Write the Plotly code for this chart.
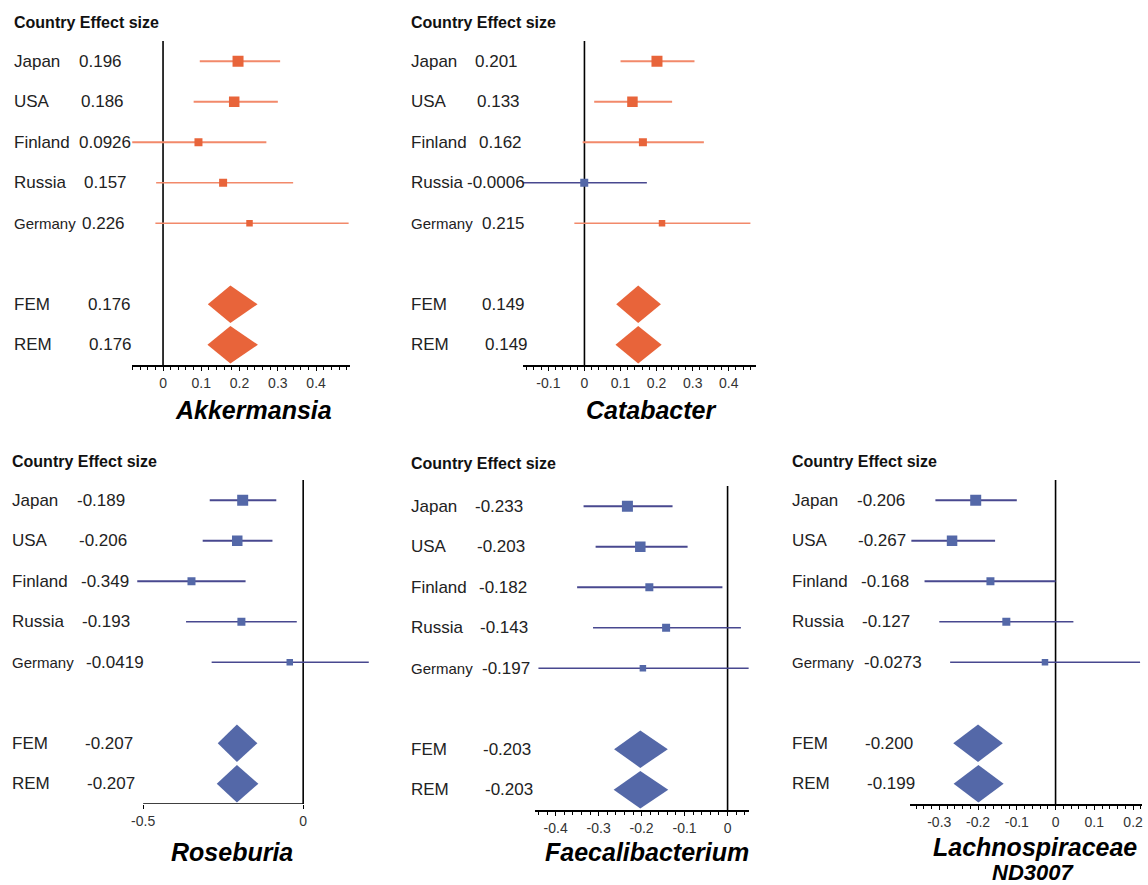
import plotly.graph_objects as go

W, H = 1148, 885

countries = ["Japan", "USA", "Finland", "Russia", "Germany"]
summary_labels = ["FEM", "REM"]
row_pos = [0, 1, 2, 3, 4]
summary_pos = [6, 7]

# ---- data per panel ----
akk_effect = [0.196, 0.186, 0.0926, 0.157, 0.226]
akk_low = [0.096, 0.080, -0.085, -0.018, -0.020]
akk_high = [0.306, 0.300, 0.270, 0.340, 0.485]
akk_sum = [0.176, 0.176]
akk_sum_low = [0.117, 0.116]
akk_sum_high = [0.247, 0.248]

cat_effect = [0.201, 0.133, 0.162, -0.0006, 0.215]
cat_low = [0.100, 0.027, -0.005, -0.175, -0.028]
cat_high = [0.305, 0.243, 0.331, 0.173, 0.460]
cat_sum = [0.149, 0.149]
cat_sum_low = [0.088, 0.086]
cat_sum_high = [0.212, 0.214]

ros_effect = [-0.189, -0.206, -0.349, -0.193, -0.0419]
ros_low = [-0.292, -0.314, -0.519, -0.366, -0.286]
ros_high = [-0.084, -0.096, -0.180, -0.020, 0.205]
ros_sum = [-0.207, -0.207]
ros_sum_low = [-0.267, -0.270]
ros_sum_high = [-0.143, -0.140]

fae_effect = [-0.233, -0.203, -0.182, -0.143, -0.197]
fae_low = [-0.335, -0.307, -0.350, -0.313, -0.440]
fae_high = [-0.128, -0.093, -0.012, 0.031, 0.049]
fae_sum = [-0.203, -0.203]
fae_sum_low = [-0.264, -0.265]
fae_sum_high = [-0.139, -0.138]

lac_effect = [-0.206, -0.267, -0.168, -0.127, -0.0273]
lac_low = [-0.310, -0.372, -0.338, -0.300, -0.272]
lac_high = [-0.100, -0.156, 0.000, 0.046, 0.218]
lac_sum = [-0.200, -0.199]
lac_sum_low = [-0.264, -0.263]
lac_sum_high = [-0.136, -0.134]

akk_ticks = [0, 0.1, 0.2, 0.3, 0.4]
akk_ticktext = ["0", "0.1", "0.2", "0.3", "0.4"]
cat_ticks = [-0.1, 0, 0.1, 0.2, 0.3, 0.4]
cat_ticktext = ["-0.1", "0", "0.1", "0.2", "0.3", "0.4"]
ros_ticks = [-0.5, 0]
ros_ticktext = ["-0.5", "0"]
fae_ticks = [-0.4, -0.3, -0.2, -0.1, 0]
fae_ticktext = ["-0.4", "-0.3", "-0.2", "-0.1", "0"]
lac_ticks = [-0.3, -0.2, -0.1, 0, 0.1, 0.2]
lac_ticktext = ["-0.3", "-0.2", "-0.1", "0", "0.1", "0.2"]

titles = ["Akkermansia", "Catabacter", "Roseburia", "Faecalibacterium", "Lachnospiraceae"]
title2 = "ND3007"

# ---- style ----
ORANGE_MARK = "#E8643A"
ORANGE_LINE = "#F2896A"
BLUE_MARK = "#5468A8"
BLUE_LINE = "#48488F"
marker_sizes = [11, 10.5, 8, 8, 6.5]
line_widths = [2, 2, 1.8, 1.6, 1.4]

panels = [
    dict(eff=akk_effect, lo=akk_low, hi=akk_high, s=akk_sum, slo=akk_sum_low, shi=akk_sum_high,
         ticks=akk_ticks, ticktext=akk_ticktext, minor=True, px=(127, 346), zero=158, scale=385,
         py=(41, 365), left=6, head_y=23, voff=[65, 67, 65, 70, 68, 74, 75],
         title_xy=(249, 410)),
    dict(eff=cat_effect, lo=cat_low, hi=cat_high, s=cat_sum, slo=cat_sum_low, shi=cat_sum_high,
         ticks=cat_ticks, ticktext=cat_ticktext, minor=True, px=(520, 755), zero=582, scale=363,
         py=(41, 365), left=405, head_y=23, voff=[65, 67, 69, 57, 72, 72, 75],
         title_xy=(649, 410)),
    dict(eff=ros_effect, lo=ros_low, hi=ros_high, s=ros_sum, slo=ros_sum_low, shi=ros_sum_high,
         ticks=ros_ticks, ticktext=ros_ticktext, minor=False, px=(132, 368), zero=299, scale=322,
         py=(480, 804), left=4, head_y=461, voff=[65, 67, 69, 70, 74, 73, 75],
         title_xy=(227, 852)),
    dict(eff=fae_effect, lo=fae_low, hi=fae_high, s=fae_sum, slo=fae_sum_low, shi=fae_sum_high,
         ticks=fae_ticks, ticktext=fae_ticktext, minor=True, px=(532, 748), zero=726, scale=432.5,
         py=(486, 810), left=405, head_y=463, voff=[65, 67, 69, 70, 72, 73, 75],
         title_xy=(645, 852)),
    dict(eff=lac_effect, lo=lac_low, hi=lac_high, s=lac_sum, slo=lac_sum_low, shi=lac_sum_high,
         ticks=lac_ticks, ticktext=lac_ticktext, minor=True, px=(910, 1143), zero=1056, scale=390,
         py=(480, 804), left=789, head_y=461, voff=[65, 66, 69, 70, 72, 73, 75],
         title_xy=(1035, 847)),
]


def fmt(v):
    return f"{v:.4f}" if abs(v) < 0.1 else f"{v:.3f}"


def px2x(p):
    return p / W


def py2y(p):
    return 1 - p / H


fig = go.Figure()
annotations = []
shapes = []
FONT = "Liberation Sans, Arial, sans-serif"

for i, p in enumerate(panels, start=1):
    xa = "x" if i == 1 else f"x{i}"
    ya = "y" if i == 1 else f"y{i}"
    xr = [(p["px"][0] - p["zero"]) / p["scale"], (p["px"][1] - p["zero"]) / p["scale"]]

    # study rows
    for k, (e, lo, hi) in enumerate(zip(p["eff"], p["lo"], p["hi"])):
        pos = e >= 0
        mc = ORANGE_MARK if pos else BLUE_MARK
        lc = ORANGE_LINE if pos else BLUE_LINE
        fig.add_trace(go.Scatter(
            x=[lo, hi], y=[row_pos[k], row_pos[k]], mode="lines",
            line=dict(color=lc, width=line_widths[k]), xaxis=xa, yaxis=ya,
            hoverinfo="skip"))
        fig.add_trace(go.Scatter(
            x=[e], y=[row_pos[k]], mode="markers",
            marker=dict(symbol="square", size=marker_sizes[k], color=mc, line=dict(width=0)),
            xaxis=xa, yaxis=ya))

    # summary diamonds
    for k, (c, lo, hi) in enumerate(zip(p["s"], p["slo"], p["shi"])):
        col = ORANGE_MARK if c >= 0 else BLUE_MARK
        r = summary_pos[k]
        fig.add_trace(go.Scatter(
            x=[lo, c, hi, c, lo], y=[r, r - 0.46, r, r + 0.46, r],
            mode="lines", fill="toself", fillcolor=col, line=dict(width=0, color=col),
            xaxis=xa, yaxis=ya, hoverinfo="skip"))

    axis_common = dict(
        domain=[px2x(p["px"][0]), px2x(p["px"][1])], range=xr, anchor=ya,
        showgrid=False, zeroline=False, showline=(i != 3), linecolor="black", linewidth=1.6,
        ticks="outside", ticklen=4, tickwidth=1, tickcolor="black",
        tickmode="array", tickvals=p["ticks"], ticktext=p["ticktext"],
        tickfont=dict(family=FONT, size=14, color="#333333"), fixedrange=True,
    )
    if p["minor"]:
        axis_common["minor"] = dict(tickmode="linear", tick0=0, dtick=0.02, ticks="outside",
                                    ticklen=3, tickcolor="black", tickwidth=1, showgrid=False)
    fig.update_layout(**{
        ("xaxis" if i == 1 else f"xaxis{i}"): axis_common,
        ("yaxis" if i == 1 else f"yaxis{i}"): dict(
            domain=[py2y(p["py"][1]), py2y(p["py"][0])], range=[7.5, -0.5], anchor=xa,
            visible=False, fixedrange=True),
    })

    # zero line
    shapes.append(dict(type="line", xref=xa, yref=ya, x0=0, x1=0, y0=-0.5, y1=7.5,
                       line=dict(color="black", width=1.6), layer="below"))
    if i == 3:
        shapes.append(dict(type="line", xref=xa, yref=ya, x0=p["ticks"][0], x1=p["ticks"][-1],
                           y0=7.5, y1=7.5, line=dict(color="black", width=1.6)))

    # header
    annotations.append(dict(text="<b>Country Effect size</b>", xref="paper", yref="paper",
                            x=px2x(p["left"]), y=py2y(p["head_y"]), xanchor="left", yanchor="middle",
                            showarrow=False, font=dict(family=FONT, size=16, color="#111111")))
    labels = countries + summary_labels
    vals = p["eff"] + p["s"]
    rows = row_pos + summary_pos
    for k, (lab, v, r) in enumerate(zip(labels, vals, rows)):
        annotations.append(dict(text=lab, xref="paper", yref=ya, x=px2x(p["left"]), y=r,
                                xanchor="left", yanchor="middle", showarrow=False,
                                font=dict(family=FONT, size=15 if lab == "Germany" else 17,
                                          color="#222222")))
        annotations.append(dict(text=fmt(v), xref="paper", yref=ya,
                                x=px2x(p["left"] + p["voff"][k]), y=r,
                                xanchor="left", yanchor="middle", showarrow=False,
                                font=dict(family=FONT, size=17, color="#222222")))
    # title
    annotations.append(dict(text=f"<b><i>{titles[i-1]}</i></b>", xref="paper", yref="paper",
                            x=px2x(p["title_xy"][0]), y=py2y(p["title_xy"][1]),
                            xanchor="center", yanchor="middle", showarrow=False,
                            font=dict(family=FONT, size=25, color="black")))

annotations.append(dict(text=f"<b><i>{title2}</i></b>", xref="paper", yref="paper",
                        x=px2x(1033), y=py2y(872), xanchor="center", yanchor="middle",
                        showarrow=False, font=dict(family=FONT, size=22, color="black")))

fig.update_layout(width=W, height=H, margin=dict(l=0, r=0, t=0, b=0),
                  paper_bgcolor="white", plot_bgcolor="white", showlegend=False,
                  annotations=annotations, shapes=shapes)

fig.write_html("out.html", config={"displayModeBar": False},
               post_script="document.body.style.margin='0';document.body.style.overflow='hidden';")
